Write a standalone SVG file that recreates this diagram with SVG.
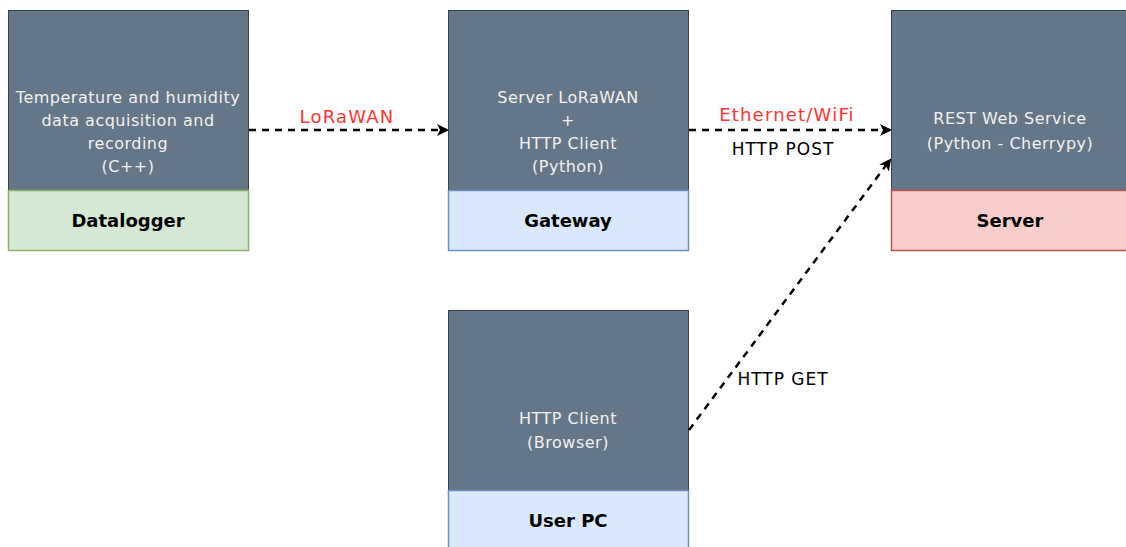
<svg xmlns="http://www.w3.org/2000/svg" width="1126" height="547" viewBox="0 0 1126 547">
  <style>
    .body { fill: #647687; stroke: #314354; stroke-width: 1; }
    .green { fill: #d5e8d4; stroke: #82b366; stroke-width: 1.5; }
    .blue { fill: #dae8fc; stroke: #6c8ebf; stroke-width: 1.5; }
    .red { fill: #f8cecc; stroke: #b85450; stroke-width: 1.5; }
    text { font-family: "Comic Sans MS", "DejaVu Sans", sans-serif; text-anchor: middle; }
    .desc { fill: #f2f2f2; font-size: 16px; letter-spacing: 0.5px; }
    .name { fill: #000000; font-size: 18px; font-weight: bold; }
    .proto { fill: #ff3333; font-size: 18px; letter-spacing: 1.2px; }
    .lbl { fill: #000000; font-size: 17px; letter-spacing: 1px; }
    .link { fill: none; stroke: #000000; stroke-width: 2.5; stroke-dasharray: 7 6; marker-end: url(#arrow); }
  </style>
  <defs>
    <marker id="arrow" markerWidth="12" markerHeight="12" refX="10" refY="6" orient="auto" markerUnits="userSpaceOnUse" viewBox="0 0 12 12">
      <path d="M0,0 L12,6 L0,12 L3,6 Z" fill="#000000"/>
    </marker>
  </defs>
  <rect width="1126" height="547" fill="#ffffff"/>

  <g id="datalogger">
    <rect class="body" x="8.5" y="10.5" width="240" height="180"/>
    <rect class="green" x="8.5" y="190.5" width="240" height="60"/>
    <text class="desc" x="128" y="103">Temperature and humidity</text>
    <text class="desc" x="128" y="126">data acquisition and</text>
    <text class="desc" x="128" y="149">recording</text>
    <text class="desc" x="128" y="172">(C++)</text>
    <text class="name" x="128" y="227">Datalogger</text>
  </g>

  <g id="gateway">
    <rect class="body" x="448.5" y="10.5" width="240" height="180"/>
    <rect class="blue" x="448.5" y="190.5" width="240" height="60"/>
    <text class="desc" x="568" y="103">Server LoRaWAN</text>
    <text class="desc" x="568" y="126">+</text>
    <text class="desc" x="568" y="149">HTTP Client</text>
    <text class="desc" x="568" y="172">(Python)</text>
    <text class="name" x="568" y="227">Gateway</text>
  </g>

  <g id="server">
    <rect class="body" x="891.5" y="10.5" width="240" height="180"/>
    <rect class="red" x="891.5" y="190.5" width="240" height="60"/>
    <text class="desc" x="1010" y="124">REST Web Service</text>
    <text class="desc" x="1010" y="149">(Python - Cherrypy)</text>
    <text class="name" x="1010" y="227">Server</text>
  </g>

  <g id="user-pc">
    <rect class="body" x="448.5" y="310.5" width="240" height="180"/>
    <rect class="blue" x="448.5" y="490.5" width="240" height="60"/>
    <text class="desc" x="568" y="424">HTTP Client</text>
    <text class="desc" x="568" y="448">(Browser)</text>
    <text class="name" x="568" y="527">User PC</text>
  </g>

  <g id="connectors">
    <path class="link" d="M249,130 L447,130"/>
    <text class="proto" x="347" y="123">LoRaWAN</text>
    <path class="link" d="M689,130 L890,130"/>
    <text class="proto" x="787" y="121">Ethernet/WiFi</text>
    <text class="lbl" x="783" y="155">HTTP POST</text>
    <path class="link" d="M689,430 L890,160"/>
    <text class="lbl" x="783" y="385">HTTP GET</text>
  </g>
</svg>
